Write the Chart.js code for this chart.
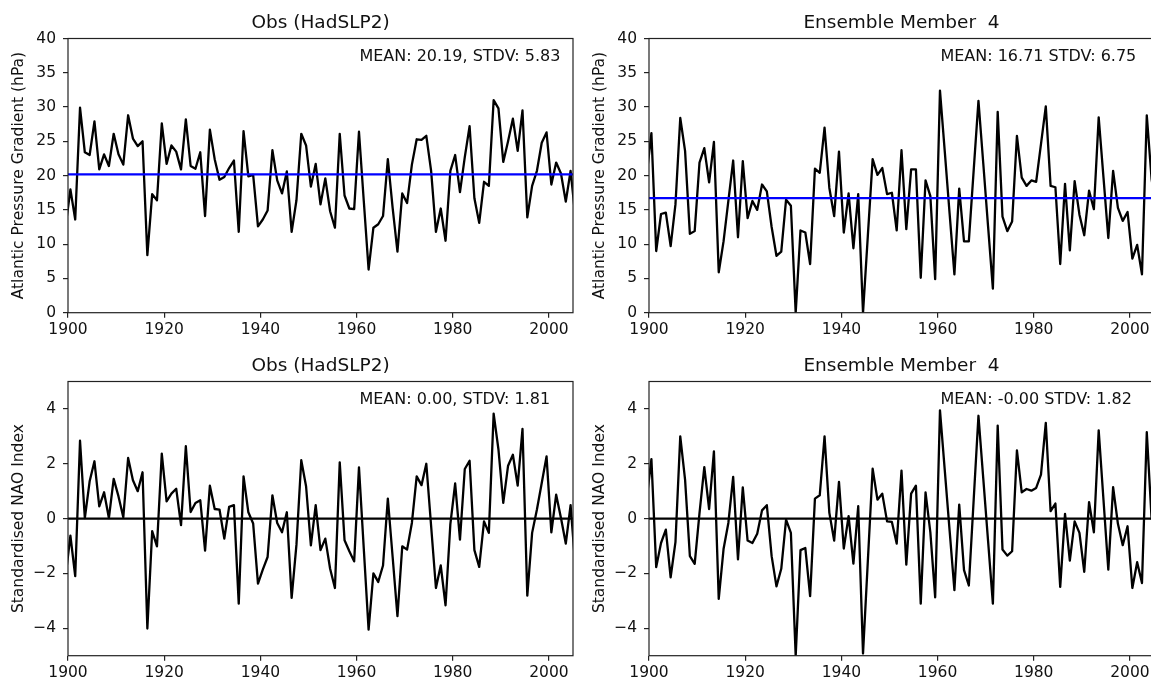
<!DOCTYPE html>
<html>
<head>
<meta charset="utf-8">
<script src="https://cdn.jsdelivr.net/npm/chart.js@4/dist/chart.umd.min.js"></script>
<style>
  html, body { margin: 0; padding: 0; background: #fff; overflow: hidden; }
  #wrap { position: relative; width: 1151px; height: 682px; overflow: hidden; }
  #wrap canvas { position: absolute; }
</style>
</head>
<body>
<div id="wrap">
  <canvas id="obs-grad" width="580" height="340" style="left:0;top:0;width:580px;height:340px"></canvas>
  <canvas id="ens-grad" width="580" height="340" style="left:581px;top:0;width:580px;height:340px"></canvas>
  <canvas id="obs-nao" width="580" height="340" style="left:0;top:343px;width:580px;height:340px"></canvas>
  <canvas id="ens-nao" width="580" height="340" style="left:581px;top:343px;width:580px;height:340px"></canvas>
</div>
<script>
// winters 1899 .. 2005, plotted mid-year
const firstYear = 1899;

// Atlantic pressure gradient (hPa), observations
const obsGrad = [
  12.6, 18.0, 13.6, 29.9, 23.4, 23.0, 27.9, 20.9, 23.1, 21.4, 26.1,
  23.1, 21.6, 28.8, 25.4, 24.3, 25.0, 8.4, 17.3, 16.4, 27.6,
  21.7, 24.4, 23.5, 20.9, 28.2, 21.4, 21.0, 23.4, 14.1, 26.7,
  22.4, 19.4, 19.8, 21.1, 22.2, 11.8, 26.5, 19.9, 20.1, 12.6,
  13.6, 14.9, 23.7, 19.3, 17.4, 20.6, 11.8, 16.4, 26.1, 24.4,
  18.4, 21.7, 15.8, 19.6, 14.8, 12.4, 26.1, 17.1, 15.2, 15.1,
  26.4, 16.3, 6.3, 12.4, 12.9, 14.1, 22.4, 15.3, 8.9, 17.4,
  16.0, 21.6, 25.3, 25.2, 25.8, 20.7, 11.8, 15.2, 10.5, 20.7,
  23.0, 17.6, 22.7, 27.2, 16.7, 13.1, 19.1, 18.5, 31.0, 29.8,
  22.0, 25.0, 28.3, 23.6, 29.5, 13.9, 18.5, 20.7, 24.8, 26.3,
  18.7, 21.9, 20.3, 16.2, 20.7, 13.9
];

// Atlantic pressure gradient (hPa), ensemble member 4
const ensGrad = [
  20.0, 26.2, 9.0, 14.4, 14.6, 9.7, 15.8, 28.4, 23.6, 11.5, 11.9,
  21.9, 24.0, 19.0, 24.9, 5.9, 10.4, 16.3, 22.2, 11.0, 22.1,
  13.8, 16.3, 15.0, 18.7, 17.7, 12.5, 8.3, 8.9, 16.5, 15.6,
  0.0, 12.0, 11.7, 7.1, 21.0, 20.4, 27.0, 18.2, 14.1, 23.5,
  11.7, 17.4, 9.4, 17.3, 0.0, 11.2, 22.4, 20.1, 21.1, 17.3,
  17.5, 12.0, 23.7, 12.2, 20.9, 20.9, 5.1, 19.3, 17.0, 4.9,
  32.4, 23.5, 14.5, 5.6, 18.1, 10.4, 10.4, 20.7, 30.9, 21.8,
  12.6, 3.5, 29.3, 14.0, 11.9, 13.3, 25.8, 19.7, 18.5, 19.3,
  19.1, 24.6, 30.1, 18.5, 18.3, 7.1, 18.8, 9.1, 19.2, 14.3,
  11.3, 17.8, 15.1, 28.5, 19.7, 10.9, 20.7, 15.3, 13.4, 14.7,
  7.9, 9.9, 5.6, 28.8, 19.5, 15.0
];

// standardised NAO index, observations
const obsNao = [
  -2.10, -0.62, -2.10, 2.84, 0.02, 1.36, 2.09, 0.45, 0.96, 0.02, 1.45,
  0.81, 0.05, 2.21, 1.40, 1.00, 1.69, -4.01, -0.46, -1.01, 2.37,
  0.63, 0.91, 1.09, -0.24, 2.64, 0.24, 0.57, 0.67, -1.17, 1.20,
  0.35, 0.33, -0.73, 0.43, 0.49, -3.10, 1.54, 0.23, -0.18, -2.37,
  -1.86, -1.40, 0.85, -0.16, -0.50, 0.23, -2.89, -0.95, 2.13, 1.18,
  -0.98, 0.49, -1.15, -0.73, -1.83, -2.53, 2.05, -0.79, -1.19, -1.56,
  1.87, -1.10, -4.05, -2.00, -2.31, -1.71, 0.73, -1.40, -3.56, -1.01,
  -1.13, -0.16, 1.54, 1.22, 2.00, -0.27, -2.53, -1.71, -3.16, -0.20,
  1.28, -0.77, 1.81, 2.11, -1.15, -1.76, -0.10, -0.52, 3.83, 2.52,
  0.57, 1.93, 2.33, 1.20, 3.27, -2.81, -0.52, 0.33, 1.30, 2.27,
  -0.50, 0.87, 0.02, -0.91, 0.49, -1.77
];

// standardised NAO index, ensemble member 4
const ensNao = [
  0.70, 2.17, -1.77, -0.89, -0.40, -2.14, -0.86, 3.00, 1.42, -1.37, -1.65,
  0.20, 1.88, 0.35, 2.45, -2.93, -1.11, -0.16, 1.52, -1.49, 1.14,
  -0.80, -0.89, -0.55, 0.30, 0.49, -1.37, -2.47, -1.83, -0.04, -0.52,
  -5.00, -1.15, -1.07, -2.83, 0.73, 0.85, 3.00, 0.21, -0.80, 1.34,
  -1.09, 0.09, -1.64, 0.45, -4.92, -1.55, 1.82, 0.69, 0.91, -0.10,
  -0.12, -0.91, 1.75, -1.68, 0.91, 1.20, -3.10, 0.96, -0.50, -2.87,
  3.95, 1.76, -0.43, -2.61, 0.51, -1.88, -2.44, 0.66, 3.75, 1.47,
  -0.81, -3.10, 3.39, -1.13, -1.35, -1.19, 2.49, 0.96, 1.08, 1.02,
  1.12, 1.60, 3.49, 0.27, 0.55, -2.49, 0.17, -1.53, -0.10, -0.52,
  -1.94, 0.60, -0.50, 3.22, 0.68, -1.86, 1.15, -0.19, -0.97, -0.28,
  -2.53, -1.59, -2.35, 3.15, 0.00, -0.50
];

const years = obsGrad.map((_, i) => firstYear + i);

// axis ticks
const yearTicks = [1900, 1920, 1940, 1960, 1980, 2000];
const gradTicks = [0, 5, 10, 15, 20, 25, 30, 35, 40];
const naoTicks = [-4, -2, 0, 2, 4];

// reference lines (series mean / zero)
const obsGradMean = 20.19;
const ensGradMean = 16.71;
const naoZero = 0;

const FONT = "'DejaVu Sans', sans-serif";
const INK = '#111';
const SPINE = '#222';

// frame around the plot area
const framePlugin = {
  id: 'frame',
  afterDatasetsDraw(chart) {
    const { ctx, chartArea: a } = chart;
    ctx.save();
    ctx.strokeStyle = SPINE;
    ctx.lineWidth = 1.2;
    ctx.strokeRect(a.left, a.top, a.right - a.left, a.bottom - a.top);
    ctx.restore();
  }
};

// "MEAN / STDV" note in the top right of each panel
const statsPlugin = {
  id: 'statsNote',
  afterDraw(chart, args, opts) {
    if (!opts.text) return;
    const { ctx, chartArea: a } = chart;
    ctx.save();
    ctx.font = `16px ${FONT}`;
    ctx.fillStyle = INK;
    ctx.textAlign = 'left';
    ctx.textBaseline = 'middle';
    ctx.fillText(opts.text, a.left + 0.577 * (a.right - a.left), a.top + 18);
    ctx.restore();
  }
};

function fmtTick(v) {
  return v < 0 ? '\u2212' + Math.abs(v) : String(v);
}

function makePanel(id, cfg) {
  const ctx = document.getElementById(id).getContext('2d');
  new Chart(ctx, {
    type: 'line',
    data: {
      datasets: [
        {
          data: [{ x: 1900, y: cfg.ref }, { x: 2005, y: cfg.ref }],
          borderColor: cfg.refColor,
          borderWidth: 2.3,
          pointRadius: 0,
          order: 0
        },
        {
          data: cfg.values.map((v, i) => ({ x: years[i] + 0.5, y: v })),
          borderColor: '#000',
          borderWidth: 2.3,
          borderJoinStyle: 'round',
          pointRadius: 0,
          tension: 0,
          order: 1
        }
      ]
    },
    options: {
      responsive: false,
      animation: false,
      events: [],
      layout: { padding: { left: 0, right: 7, top: 0, bottom: 0 } },
      plugins: {
        legend: { display: false },
        tooltip: { enabled: false },
        title: {
          display: true,
          text: cfg.title,
          fullSize: false,
          color: INK,
          font: { family: FONT, size: 18.5, weight: 'normal', lineHeight: 1.2 },
          padding: { top: 12, bottom: 4.3 }
        },
        statsNote: { text: cfg.stats }
      },
      scales: {
        x: {
          type: 'linear',
          min: 1900,
          max: 2005,
          afterBuildTicks: axis => { axis.ticks = yearTicks.map(v => ({ value: v })); },
          afterFit: axis => { axis.height = 27.3; },
          grid: { drawOnChartArea: false, drawTicks: true, tickLength: 5, color: SPINE, lineWidth: 1.2 },
          border: { display: false },
          ticks: {
            color: INK, padding: 3, maxRotation: 0, autoSkip: false,
            font: { family: FONT, size: 15.5 },
            callback: v => String(v)
          }
        },
        y: {
          min: cfg.yMin,
          max: cfg.yMax,
          afterBuildTicks: axis => { axis.ticks = cfg.yTicks.map(v => ({ value: v })); },
          afterFit: axis => { axis.width = 68; },
          grid: { drawOnChartArea: false, drawTicks: true, tickLength: 5, color: SPINE, lineWidth: 1.2 },
          border: { display: false },
          title: {
            display: true,
            text: cfg.yTitle,
            color: INK,
            font: { family: FONT, size: 15.5, lineHeight: 1.2 },
            padding: { top: 10, bottom: 0 }
          },
          ticks: {
            color: INK, padding: 7, autoSkip: false,
            font: { family: FONT, size: 15.5 },
            callback: v => fmtTick(v)
          }
        }
      }
    },
    plugins: [framePlugin, statsPlugin]
  });
}

// ==========================================
// Top row: pressure gradient
// ==========================================
makePanel('obs-grad', {
  title: 'Obs (HadSLP2)',
  stats: 'MEAN: 20.19, STDV: 5.83',
  yTitle: 'Atlantic Pressure Gradient (hPa)',
  values: obsGrad,
  ref: obsGradMean, refColor: '#0000ff',
  yMin: 0, yMax: 40, yTicks: gradTicks
});

makePanel('ens-grad', {
  title: 'Ensemble Member  4',
  stats: 'MEAN: 16.71 STDV: 6.75',
  yTitle: 'Atlantic Pressure Gradient (hPa)',
  values: ensGrad,
  ref: ensGradMean, refColor: '#0000ff',
  yMin: 0, yMax: 40, yTicks: gradTicks
});

// ==========================================
// Bottom row: standardised NAO index
// ==========================================
makePanel('obs-nao', {
  title: 'Obs (HadSLP2)',
  stats: 'MEAN: 0.00, STDV: 1.81',
  yTitle: 'Standardised NAO Index',
  values: obsNao,
  ref: naoZero, refColor: '#000',
  yMin: -5, yMax: 5, yTicks: naoTicks
});

makePanel('ens-nao', {
  title: 'Ensemble Member  4',
  stats: 'MEAN: -0.00 STDV: 1.82',
  yTitle: 'Standardised NAO Index',
  values: ensNao,
  ref: naoZero, refColor: '#000',
  yMin: -5, yMax: 5, yTicks: naoTicks
});
</script>
</body>
</html>
